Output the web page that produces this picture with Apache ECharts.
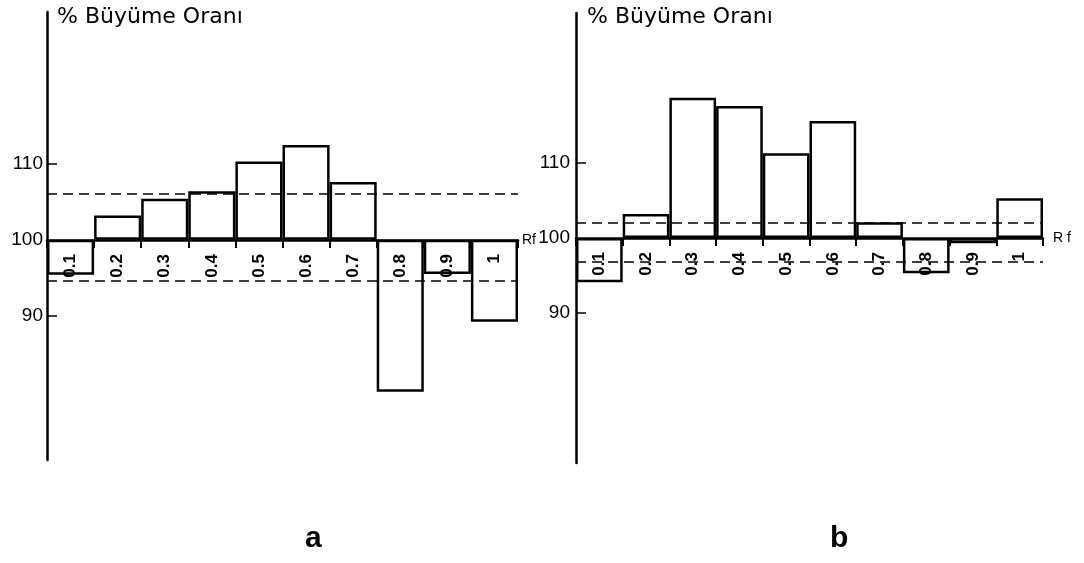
<!DOCTYPE html>
<html>
<head>
<meta charset="utf-8">
<script src="https://cdn.jsdelivr.net/npm/echarts@6/dist/echarts.min.js"></script>
<style>
  html, body { margin: 0; padding: 0; background: #fff; }
  #chart { width: 1084px; height: 563px; }
</style>
</head>
<body>
<div id="chart"></div>
<script>
// Rf values on the x axis
const rfLabels = ['0.1', '0.2', '0.3', '0.4', '0.5', '0.6', '0.7', '0.8', '0.9', '1']
// % growth rate (100 = reference level)
const growthA = [95.4, 103.2, 105.4, 106.4, 110.3, 112.5, 107.6, 80.0, 95.5, 89.2]
const growthB = [94.1, 103.2, 118.7, 117.6, 111.3, 115.6, 102.1, 95.3, 99.3, 105.3]
// dashed reference levels
const dashA = [106.1, 94.6]
const dashB = [102.0, 96.9]
const yTickLabels = [90, 100, 110]
const BASE = 100

const chart = echarts.init(document.getElementById('chart'))

function rel(arr) {
  return arr.map(v => +(v - BASE).toFixed(2))
}

// x axis drawn along the 100 line: shifted up from the grid bottom
function makeX(gridIndex, name, nameGap, offset) {
  return {
    type: 'category',
    gridIndex: gridIndex,
    position: 'bottom',
    offset: offset,
    z: 5,
    data: rfLabels,
    name: name,
    nameLocation: 'end',
    nameGap: nameGap,
    nameTextStyle: { color: '#000', fontSize: 14, fontFamily: 'Liberation Sans', padding: [14, 0, 0, 0] },
    axisLine: { onZero: false, lineStyle: { color: '#000', width: 2.5 } },
    axisTick: { show: true, length: 8, lineStyle: { color: '#000', width: 2 } },
    axisLabel: {
      rotate: 90,
      margin: 14,
      color: '#000',
      fontSize: 17,
      fontWeight: 'bold',
      fontFamily: 'Liberation Sans'
    },
    splitLine: { show: false }
  }
}

function makeY(gridIndex, min, labelMargin) {
  const vals = yTickLabels.map(v => v - BASE)
  return {
    type: 'value',
    gridIndex: gridIndex,
    min: min,
    max: 30,
    axisLine: { show: true, lineStyle: { color: '#000', width: 2.5 } },
    axisTick: {
      show: true,
      inside: true,
      length: 10,
      customValues: vals.filter(v => v !== 0),
      lineStyle: { color: '#000', width: 1.5 }
    },
    axisLabel: {
      customValues: vals,
      margin: labelMargin,
      color: '#000',
      fontSize: 19,
      fontFamily: 'Liberation Sans',
      formatter: v => String(v + BASE)
    },
    splitLine: { show: false }
  }
}

function makeBars(idx, values, dashes) {
  return {
    type: 'bar',
    xAxisIndex: idx,
    yAxisIndex: idx,
    data: rel(values),
    barWidth: '100%',
    barGap: '0%',
    silent: true,
    itemStyle: { color: 'rgba(0,0,0,0)', borderColor: '#000', borderWidth: 2.5 },
    markLine: {
      silent: true,
      symbol: 'none',
      label: { show: false },
      lineStyle: { color: '#000', width: 1.5, type: [10, 6] },
      data: dashes.map(d => ({ yAxis: +(d - BASE).toFixed(2) }))
    }
  }
}

const titleStyle = { fontSize: 22, fontWeight: 'normal', fontFamily: 'DejaVu Sans', color: '#000' }
const letterStyle = { fontSize: 30, fontWeight: 'bold', fontFamily: 'Liberation Sans', color: '#000' }

chart.setOption({
  backgroundColor: '#fff',
  animation: false,
  title: [
    { text: '% Büyüme Oranı', left: 57, top: 6, padding: 0, textStyle: titleStyle },
    { text: '% Büyüme Oranı', left: 587, top: 6, padding: 0, textStyle: titleStyle },
    { text: 'a', left: 305, top: 524, padding: 0, textStyle: letterStyle },
    { text: 'b', left: 830, top: 524, padding: 0, textStyle: letterStyle }
  ],
  grid: [
    { left: 47, top: 12, width: 471, height: 448 },
    { left: 576, top: 13, width: 467, height: 450 }
  ],
  xAxis: [makeX(0, 'Rf', 4, -220), makeX(1, 'R f', 10, -225)],
  yAxis: [makeY(0, -29, 4), makeY(1, -30, 6)],
  series: [makeBars(0, growthA, dashA), makeBars(1, growthB, dashB)]
})
</script>
</body>
</html>
